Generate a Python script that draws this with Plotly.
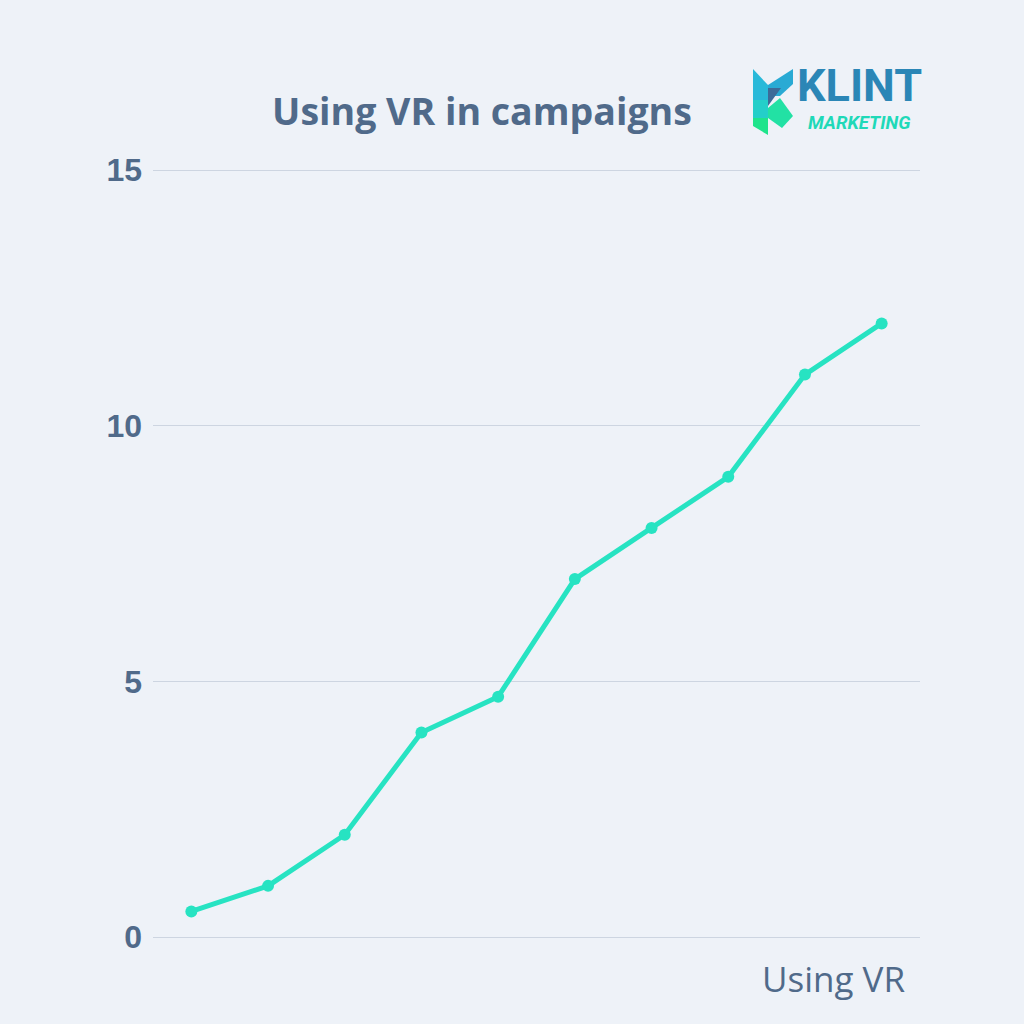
import plotly.graph_objects as go

# Data
periods = [1, 2, 3, 4, 5, 6, 7, 8, 9, 10]
vr_usage = [0.5, 1, 2, 4, 4.7, 7, 8, 9, 11, 12]
y_ticks = [0, 5, 10, 15]

title_text = "Using VR in campaigns"
x_title = "Using VR"

BG = "#eef2f8"
TXT = "#506a8a"
LINE = "#27e3c2"
GRID = "#cdd5e1"

W, H = 1024, 1024
L, R, T, B = 153, 920, 170, 937
Y_MAX = 15.02
T_ADJ = T - (Y_MAX - 15) * (B - T) / 15  # keep the 15 gridline at its pixel row


def px(x):
    return (x - L) / (R - L)


def py(y):
    return (B - y) / (B - T_ADJ)


fig = go.Figure()
fig.add_trace(go.Scatter(
    x=periods, y=vr_usage, mode="lines+markers",
    line=dict(color=LINE, width=5),
    marker=dict(color=LINE, size=12),
    hoverinfo="skip",
))

# Logo: triangles forming a "K"
logo_polys = [
    ([(753, 69), (768, 85), (768, 100), (753, 100)], "#29b9d9"),
    ([(753, 100), (768, 100), (768, 118), (753, 118)], "#24cfc9"),
    ([(753, 118), (768, 118), (768, 135), (753, 126)], "#1fe48c"),
    ([(768, 85), (793, 69), (793, 84), (780, 96), (768, 96)], "#29aad4"),
    ([(768, 88), (781, 88), (768, 106)], "#3d6a98"),
    ([(768, 108), (780, 98), (793, 116), (782, 128), (768, 118)], "#22e1a4"),
]
shapes = []
for pts, col in logo_polys:
    path = "M " + " L ".join(f"{px(x):.5f},{py(y):.5f}" for x, y in pts) + " Z"
    shapes.append(dict(type="path", xref="paper", yref="paper", path=path,
                       fillcolor=col, line=dict(width=0), layer="above"))

annotations = [
    dict(text="<b>KLINT</b>", xref="paper", yref="paper", x=px(795), y=py(85),
         xanchor="left", yanchor="middle", showarrow=False,
         font=dict(family="Roboto", size=45, color="#2b86b6")),
    dict(text="<b><i>MARKETING</i></b>", xref="paper", yref="paper", x=px(806), y=py(123),
         xanchor="left", yanchor="middle", showarrow=False,
         font=dict(family="Roboto", size=18.5, color="#1fd9b8")),
    dict(text=x_title, xref="paper", yref="paper", x=px(907), y=py(979),
         xanchor="right", yanchor="middle", showarrow=False,
         font=dict(family="Open Sans", size=35, color=TXT)),
]

fig.update_layout(
    width=W, height=H,
    paper_bgcolor=BG, plot_bgcolor=BG,
    margin=dict(l=L, r=W - R, t=T_ADJ, b=H - B, pad=0),
    showlegend=False,
    title=dict(text="<b>" + title_text + "</b>", x=482 / W, y=1 - 112 / H,
               xanchor="center", yanchor="middle", xref="container", yref="container",
               font=dict(family="Open Sans", size=37.5, color=TXT)),
    xaxis=dict(range=[0.5, 10.5], showgrid=False, showticklabels=False,
               zeroline=False, showline=False, ticks=""),
    yaxis=dict(range=[0, Y_MAX], tickvals=y_ticks, showgrid=True, gridcolor=GRID,
               gridwidth=1, zeroline=True, zerolinecolor=GRID, zerolinewidth=1,
               showline=False, ticks="", ticklabelstandoff=10,
               tickfont=dict(family="Liberation Sans", size=32, color=TXT, weight="bold")),
    shapes=shapes,
    annotations=annotations,
)

fig.write_html(
    "out.html",
    config={"displayModeBar": False},
    post_script="document.body.style.margin='0';document.body.style.padding='0';",
)
